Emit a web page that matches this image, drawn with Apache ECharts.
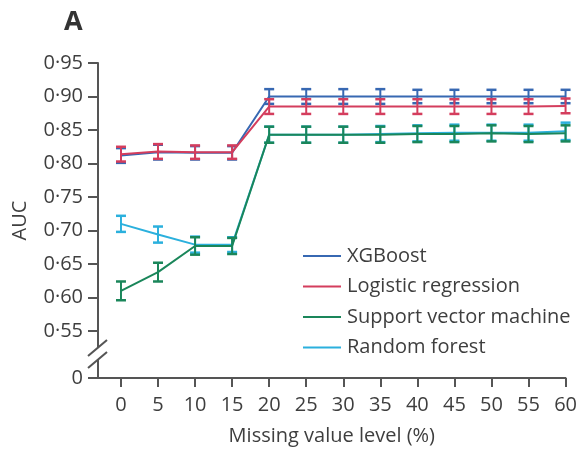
<!DOCTYPE html>
<html>
<head>
<meta charset="utf-8">
<script src="https://cdn.jsdelivr.net/npm/echarts@6/dist/echarts.min.js"></script>
<style>html,body{margin:0;padding:0;background:#fff}#c{width:580px;height:451px}</style>
</head>
<body>
<div id="c"></div>
<script>
// ---- data ----
const missingLevels = [0, 5, 10, 15, 20, 25, 30, 35, 40, 45, 50, 55, 60];
const seriesNames = ['XGBoost', 'Logistic regression', 'Support vector machine', 'Random forest'];
const xgbAUC = [0.812, 0.817, 0.816, 0.816, 0.900, 0.900, 0.900, 0.900, 0.900, 0.900, 0.900, 0.900, 0.900];
const xgbErr = [0.011, 0.011, 0.010, 0.010, 0.011, 0.011, 0.011, 0.011, 0.010, 0.010, 0.010, 0.010, 0.010];
const lrAUC = [0.814, 0.818, 0.817, 0.817, 0.885, 0.885, 0.885, 0.885, 0.885, 0.885, 0.885, 0.885, 0.886];
const lrErr = [0.011, 0.011, 0.010, 0.010, 0.011, 0.011, 0.011, 0.011, 0.011, 0.011, 0.011, 0.011, 0.011];
const svmAUC = [0.610, 0.638, 0.677, 0.677, 0.843, 0.843, 0.843, 0.843, 0.844, 0.844, 0.845, 0.844, 0.845];
const svmErr = [0.014, 0.014, 0.013, 0.012, 0.012, 0.012, 0.012, 0.012, 0.012, 0.012, 0.012, 0.012, 0.012];
const rfAUC = [0.710, 0.694, 0.679, 0.679, 0.843, 0.843, 0.843, 0.844, 0.845, 0.846, 0.846, 0.846, 0.848];
const rfErr = [0.012, 0.012, 0.012, 0.011, 0.012, 0.012, 0.012, 0.012, 0.012, 0.012, 0.012, 0.012, 0.013];
const yTickValues = [0.48, 0.55, 0.60, 0.65, 0.70, 0.75, 0.80, 0.85, 0.90, 0.95]; // 0.48 stands for the broken-axis "0"
const xTickValues = [0, 5, 10, 15, 20, 25, 30, 35, 40, 45, 50, 55, 60];

const colors = ['#3768b2', '#d43d5d', '#1a865a', '#2bb0dd'];
const FONT = '"Open Sans", "Noto Sans", sans-serif';
const TXT = '#3e3e3e';
const AX = '#555555';

function pairs(vals) { return missingLevels.map((x, i) => [x, vals[i]]); }
function errData(vals, errs) { return missingLevels.map((x, i) => [x, vals[i] - errs[i], vals[i] + errs[i]]); }

function errSeries(name, vals, errs, color, z) {
  return {
    type: 'custom', name: name + ' CI', z: z, silent: true,
    data: errData(vals, errs),
    encode: { x: 0, y: [1, 2] },
    renderItem: function (params, api) {
      const x = api.value(0);
      const lo = api.coord([x, api.value(1)]);
      const hi = api.coord([x, api.value(2)]);
      const hw = 5;
      const st = { stroke: color, lineWidth: 2 };
      return {
        type: 'group',
        children: [
          { type: 'line', shape: { x1: lo[0], y1: lo[1], x2: hi[0], y2: hi[1] }, style: st },
          { type: 'line', shape: { x1: lo[0] - hw, y1: lo[1], x2: lo[0] + hw, y2: lo[1] }, style: { stroke: color, lineWidth: 2.5 } },
          { type: 'line', shape: { x1: hi[0] - hw, y1: hi[1], x2: hi[0] + hw, y2: hi[1] }, style: { stroke: color, lineWidth: 2.5 } }
        ]
      };
    }
  };
}

function lineSeries(name, vals, color, z) {
  return {
    type: 'line', name: name, data: pairs(vals), z: z,
    symbol: 'none', lineStyle: { color: color, width: 2 }, itemStyle: { color: color },
    animation: false
  };
}

const chart = echarts.init(document.getElementById('c'), null, { renderer: 'canvas' });
const option = {
  animation: false,
  backgroundColor: '#fff',
  title: { text: 'A', left: 59, top: 4, textStyle: { fontFamily: FONT, fontSize: 27, fontWeight: 'bold', color: '#333' } },
  grid: { left: 98, right: 13, top: 63, bottom: 72, containLabel: false },
  legend: {
    data: seriesNames, orient: 'vertical', left: 303, top: 245, padding: 0,
    icon: 'rect', itemWidth: 38, itemHeight: 2, itemGap: 8.5,
    textStyle: { fontFamily: FONT, fontSize: 20, color: TXT, lineHeight: 22, padding: [0, 0, 0, 1] },
    selectedMode: false
  },
  xAxis: {
    type: 'value', min: -3.1, max: 60,
    name: 'Missing value level (%)', nameLocation: 'middle', nameGap: 48,
    nameTextStyle: { fontFamily: FONT, fontSize: 20, color: TXT },
    axisLine: { onZero: false, lineStyle: { color: AX, width: 2 } },
    axisTick: { show: true, length: 9, lineStyle: { color: AX, width: 2 }, customValues: xTickValues },
    axisLabel: { fontFamily: FONT, fontSize: 20, color: TXT, margin: 17, customValues: xTickValues },
    splitLine: { show: false }
  },
  yAxis: {
    type: 'value', min: 0.48, max: 0.95,
    name: 'AUC', nameLocation: 'middle', nameGap: 68, nameRotate: 90,
    nameTextStyle: { fontFamily: FONT, fontSize: 20, color: TXT },
    axisLine: { show: true, onZero: false, lineStyle: { color: AX, width: 2 } },
    axisTick: { show: true, length: 10, lineStyle: { color: AX, width: 2 }, customValues: yTickValues },
    axisLabel: {
      fontFamily: FONT, fontSize: 20, color: TXT, margin: 15, customValues: yTickValues,
      formatter: function (v) { return v < 0.5 ? '0' : v.toFixed(2).replace('.', '·'); }
    },
    splitLine: { show: false }
  },
  series: [
    lineSeries(seriesNames[0], xgbAUC, colors[0], 2),
    errSeries(seriesNames[0], xgbAUC, xgbErr, colors[0], 2),
    lineSeries(seriesNames[1], lrAUC, colors[1], 3),
    errSeries(seriesNames[1], lrAUC, lrErr, colors[1], 3),
    lineSeries(seriesNames[3], rfAUC, colors[3], 4),
    errSeries(seriesNames[3], rfAUC, rfErr, colors[3], 4),
    lineSeries(seriesNames[2], svmAUC, colors[2], 5),
    errSeries(seriesNames[2], svmAUC, svmErr, colors[2], 5)
  ]
};
chart.setOption(option);

// axis-break marks placed from the axis scale
const axX = chart.convertToPixel({ xAxisIndex: 0 }, -3.1);
const y55 = chart.convertToPixel({ yAxisIndex: 0 }, 0.55);
chart.setOption({
  graphic: [
    { type: 'rect', z: 100, shape: { x: axX - 3, y: y55 + 17, width: 6, height: 11 }, style: { fill: '#fff' } },
    { type: 'line', z: 101, shape: { x1: axX - 10, y1: y55 + 25, x2: axX + 9, y2: y55 + 9 }, style: { stroke: AX, lineWidth: 2 } },
    { type: 'line', z: 101, shape: { x1: axX - 10, y1: y55 + 37, x2: axX + 9, y2: y55 + 21 }, style: { stroke: AX, lineWidth: 2 } }
  ]
});
</script>
</body>
</html>
